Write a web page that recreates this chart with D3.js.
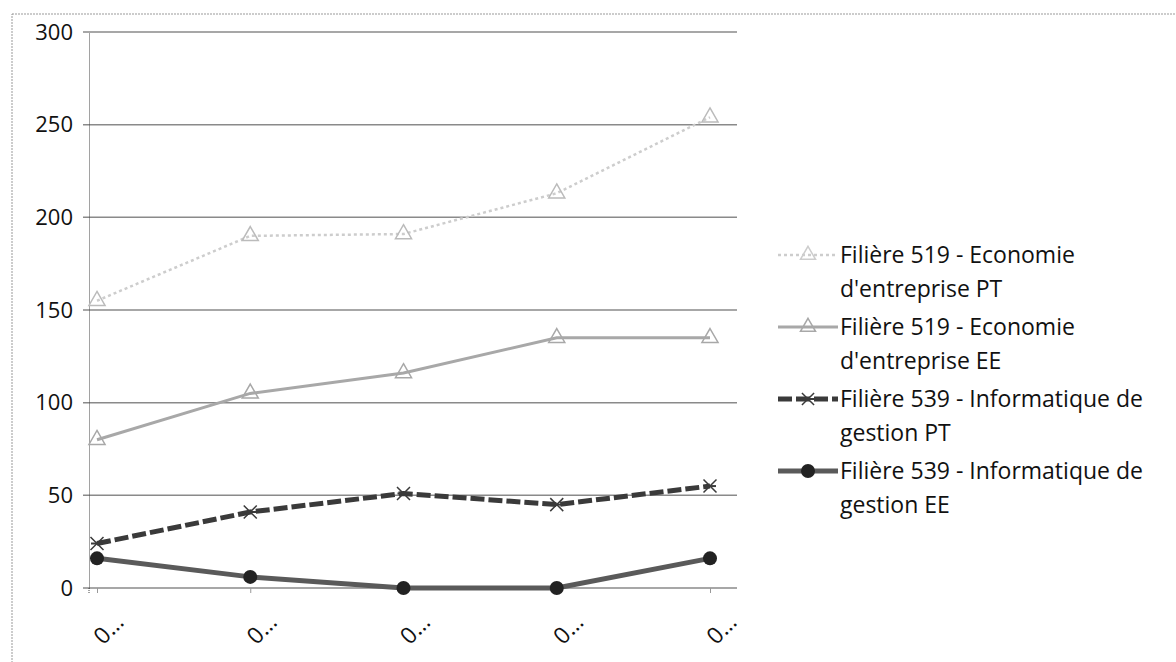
<!DOCTYPE html>
<html><head><meta charset="utf-8">
<script src="https://cdn.jsdelivr.net/npm/d3@7"></script>
<style>body{margin:0;background:#fff}svg{display:block}</style>
</head><body>
<svg id="c" width="1176" height="662"></svg>
<script>
const categories = ["0…","0…","0…","0…","0…"];
const seriesNames = [
  ["Filière 519 - Economie","d'entreprise PT"],
  ["Filière 519 - Economie","d'entreprise EE"],
  ["Filière 539 - Informatique de","gestion PT"],
  ["Filière 539 - Informatique de","gestion EE"]
];
const pt519 = [155, 190, 191, 213, 254];
const ee519 = [80, 105, 116, 135, 135];
const pt539 = [24, 41, 51, 45, 55];
const ee539 = [16, 6, 0, 0, 16];
const yTicks = [0, 50, 100, 150, 200, 250, 300];

const series = [
  {name: seriesNames[0], values: pt519, color: "#cdcdcd", width: 2.5, marker: "triangle", dash: "3,3"},
  {name: seriesNames[1], values: ee519, color: "#a8a8a8", width: 3, marker: "triangle", dash: null},
  {name: seriesNames[2], values: pt539, color: "#3a3a3a", width: 5, marker: "x", dash: "14,4"},
  {name: seriesNames[3], values: ee539, color: "#5a5a5a", width: 5, marker: "circle", dash: null}
];

const svg = d3.select("#c");
const font = "'Open Sans', 'Noto Sans', sans-serif";
const fs = 22;

// outer border
svg.append("rect").attr("x", 12).attr("y", 14).attr("width", 1166).attr("height", 660)
  .attr("fill", "none").attr("stroke", "#999").attr("stroke-dasharray", "2,1");

const y = d3.scaleLinear().domain([0, 300]).range([588, 32]);
const x = d3.scalePoint().domain(d3.range(categories.length)).range([97, 710]);
const plotL = 89, plotR = 737;

// gridlines
svg.append("g").selectAll("line").data(yTicks).join("line")
  .attr("x1", plotL - 6).attr("x2", plotR).attr("y1", d => y(d)).attr("y2", d => y(d))
  .attr("stroke", "#8a8a8a").attr("stroke-width", 1.5);

// y axis
const yAxis = d3.axisLeft(y).tickValues(yTicks).tickSize(0).tickPadding(16);
const gy = svg.append("g").attr("transform", `translate(${plotL},0)`).call(yAxis);
gy.select(".domain").attr("stroke", "#444").attr("stroke-dasharray", "1,1");
gy.selectAll("text").attr("font-family", font).attr("font-size", fs).attr("fill", "#111");
svg.append("line").attr("x1", plotL).attr("x2", plotL).attr("y1", y(0)).attr("y2", y(0) + 6)
  .attr("stroke", "#444").attr("stroke-dasharray", "1,1");

// x axis ticks
const xAxis = d3.axisBottom(x).tickFormat(i => categories[i]).tickSize(5).tickPadding(20);
const gx = svg.append("g").attr("transform", `translate(0,${y(0)})`).call(xAxis);
gx.select(".domain").remove();
gx.selectAll("line").attr("stroke", "#999");
gx.selectAll("text").attr("font-family", font).attr("font-size", 23).attr("fill", "#111")
  .attr("text-anchor", "end").attr("x", 0).attr("y", 0).attr("dy", "0.35em")
  .attr("transform", "translate(22,30) rotate(-45)");

const line = d3.line().x((d, i) => x(i)).y(d => y(d));

function drawMarker(g, type, cx, cy, color, size) {
  if (type === "triangle") {
    g.append("path").attr("d", d3.symbol(d3.symbolTriangle, size * 14)())
      .attr("transform", `translate(${cx},${cy})`).attr("fill", "none").attr("stroke", color).attr("stroke-width", 1.5);
  } else if (type === "x") {
    g.append("path").attr("d", d3.symbol(d3.symbolTimes, size * 14)())
      .attr("transform", `translate(${cx},${cy})`).attr("fill", color).attr("stroke", color).attr("stroke-width", 1.5);
    g.append("line").attr("x1", cx - 6).attr("x2", cx + 6).attr("y1", cy).attr("y2", cy).attr("stroke", color).attr("stroke-width", 2);
  } else {
    g.append("circle").attr("cx", cx).attr("cy", cy).attr("r", 7).attr("fill", "#222");
  }
}

series.forEach(s => {
  const g = svg.append("g");
  g.append("path").datum(s.values).attr("d", line).attr("fill", "none")
    .attr("stroke", s.color).attr("stroke-width", s.width)
    .attr("stroke-dasharray", s.dash);
  s.values.forEach((v, i) => drawMarker(g, s.marker, x(i), y(v), s.color === "#cdcdcd" ? "#bbb" : (s.marker === "circle" ? "#222" : s.color), 8));
});

// legend
const legY0 = 255, entryGap = 72, lineH = 34;
series.forEach((s, k) => {
  const ly = legY0 + k * entryGap;
  const g = svg.append("g");
  g.append("line").attr("x1", 778).attr("x2", 838).attr("y1", ly).attr("y2", ly)
    .attr("stroke", s.color).attr("stroke-width", s.width).attr("stroke-dasharray", s.dash);
  drawMarker(g, s.marker, 808, ly, s.marker === "circle" ? "#222" : s.color, 7);
  s.name.forEach((t, j) => {
    g.append("text").attr("x", 840).attr("y", ly + j * lineH).attr("dy", "0.35em")
      .attr("font-family", font).attr("font-size", 23).attr("fill", "#111").text(t);
  });
});
</script>
</body></html>
